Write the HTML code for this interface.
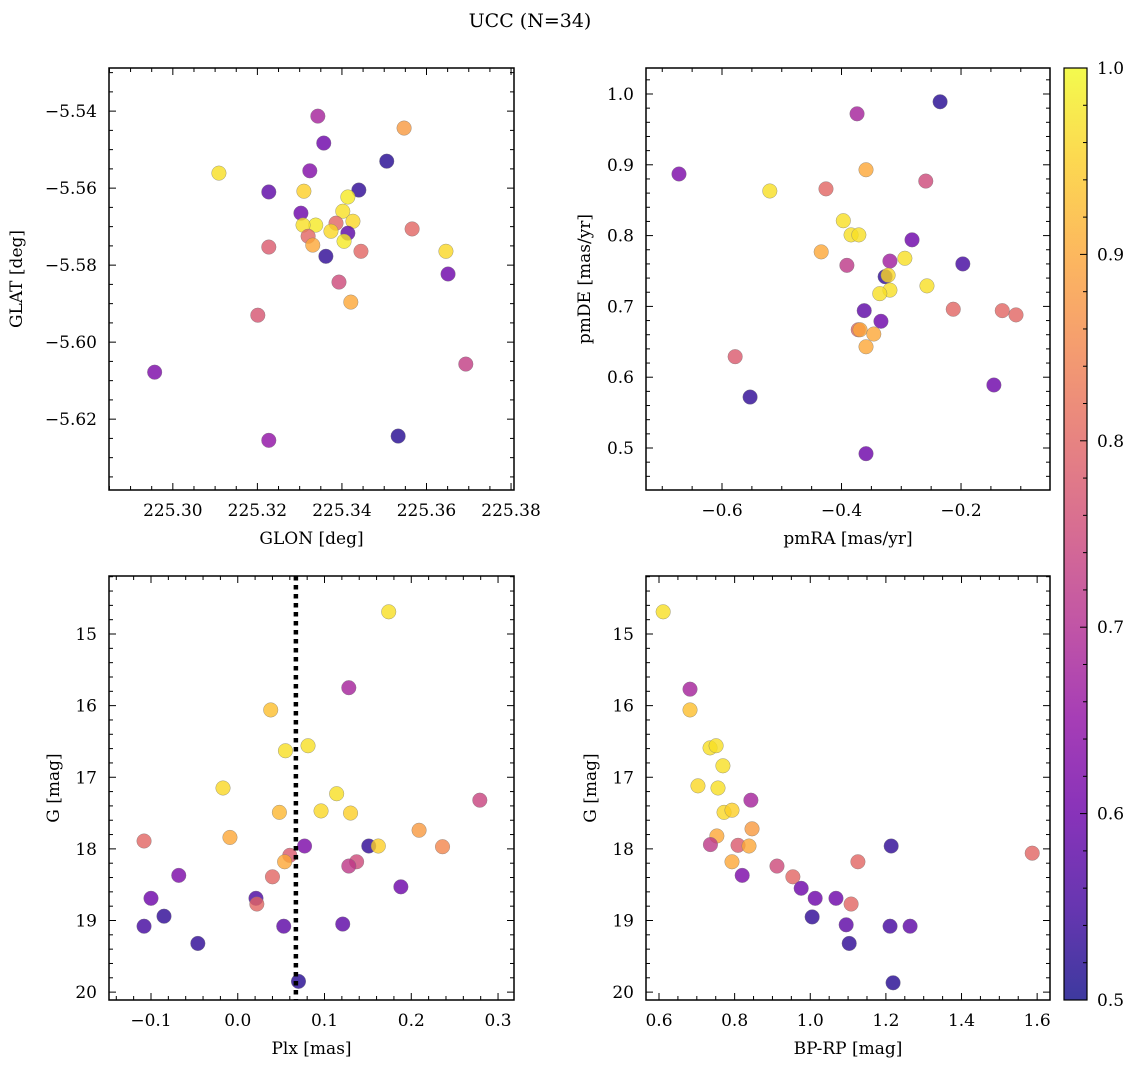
<!DOCTYPE html>
<html><head><meta charset="utf-8">
<style>
html,body{margin:0;padding:0;background:#fff;}
svg{display:block;font-family:"DejaVu Serif","Liberation Serif",serif;}
</style></head>
<body>
<svg id="fig" width="1136" height="1067" viewBox="0 0 1136 1067" xmlns="http://www.w3.org/2000/svg">
<defs>
<linearGradient id="cbgrad" x1="0" y1="1" x2="0" y2="0">
<stop offset="0" stop-color="#0d0887"/><stop offset="0.1" stop-color="#41049d"/><stop offset="0.2" stop-color="#6a00a8"/><stop offset="0.3" stop-color="#8f0da4"/><stop offset="0.4" stop-color="#b12a90"/><stop offset="0.5" stop-color="#cc4778"/><stop offset="0.6" stop-color="#e16462"/><stop offset="0.7" stop-color="#f2844b"/><stop offset="0.8" stop-color="#fca636"/><stop offset="0.9" stop-color="#fcce25"/><stop offset="1" stop-color="#f0f921"/>
</linearGradient>
</defs>
<text x="530" y="27" font-size="19" text-anchor="middle">UCC (N=34)</text>
</svg>
<script>
// ---- data ----
const tlGlon=[225.3343,225.3547,225.3357,225.3109,225.3324,225.3506,225.3227,225.3310,225.3440,225.3414,225.3303,225.3402,225.3426,225.3338,225.3308,225.3386,225.3374,225.3414,225.3320,225.3405,225.3331,225.3227,225.3566,225.3445,225.3646,225.3362,225.3651,225.3393,225.3421,225.3201,225.2957,225.3693,225.3533,225.3227];
const tlGlat=[-5.5413,-5.5444,-5.5483,-5.5561,-5.5555,-5.5530,-5.5610,-5.5608,-5.5605,-5.5623,-5.5665,-5.5660,-5.5686,-5.5696,-5.5696,-5.5691,-5.5712,-5.5717,-5.5725,-5.5738,-5.5748,-5.5753,-5.5706,-5.5764,-5.5764,-5.5777,-5.5823,-5.5844,-5.5896,-5.5930,-5.6078,-5.6057,-5.6244,-5.6255];
const tlProb=[0.68,0.88,0.6,0.97,0.63,0.52,0.58,0.95,0.53,0.98,0.6,0.97,0.96,0.98,0.97,0.8,0.96,0.58,0.8,0.98,0.9,0.78,0.8,0.8,0.96,0.53,0.6,0.75,0.9,0.77,0.62,0.73,0.52,0.65];

const trPmra=[-0.235,-0.374,-0.672,-0.520,-0.426,-0.359,-0.259,-0.397,-0.384,-0.371,-0.434,-0.282,-0.391,-0.319,-0.294,-0.197,-0.327,-0.322,-0.257,-0.319,-0.336,-0.213,-0.131,-0.108,-0.362,-0.334,-0.372,-0.369,-0.346,-0.359,-0.578,-0.145,-0.553,-0.359];
const trPmde=[0.989,0.972,0.887,0.863,0.866,0.893,0.877,0.821,0.801,0.801,0.777,0.794,0.758,0.764,0.768,0.760,0.742,0.744,0.729,0.723,0.718,0.696,0.694,0.688,0.694,0.679,0.667,0.667,0.661,0.643,0.629,0.589,0.572,0.492];
const trProb=[0.52,0.68,0.62,0.97,0.8,0.9,0.75,0.97,0.97,0.97,0.9,0.6,0.72,0.67,0.97,0.55,0.53,0.96,0.97,0.97,0.97,0.8,0.8,0.8,0.58,0.6,0.8,0.9,0.9,0.9,0.78,0.6,0.53,0.6];

const blPlx=[0.174,0.128,0.038,0.055,0.081,0.114,-0.017,0.130,0.096,0.048,0.279,-0.108,-0.009,0.209,0.236,0.077,0.151,0.162,0.060,0.054,0.137,0.128,-0.068,0.040,0.188,-0.100,0.021,0.022,-0.085,-0.108,0.053,0.121,-0.046,0.070];
const blG=[14.69,15.75,16.06,16.63,16.56,17.23,17.15,17.50,17.47,17.49,17.32,17.89,17.84,17.74,17.97,17.96,17.96,17.96,18.09,18.18,18.18,18.24,18.37,18.39,18.53,18.69,18.69,18.77,18.94,19.08,19.08,19.05,19.32,19.85];
const blProb=[0.97,0.68,0.93,0.97,0.97,0.97,0.96,0.95,0.96,0.92,0.74,0.8,0.9,0.88,0.85,0.62,0.53,0.95,0.78,0.9,0.75,0.72,0.62,0.8,0.6,0.6,0.56,0.8,0.53,0.55,0.58,0.58,0.53,0.52];
const plxLine=0.067;

const brBprp=[0.611,0.682,0.682,0.735,0.751,0.769,0.703,0.756,0.772,0.793,0.843,0.753,0.846,0.809,0.838,0.736,1.587,1.214,0.793,1.126,0.912,0.820,0.954,0.976,1.013,1.068,1.108,1.005,1.095,1.211,1.264,1.103,1.219];
const brG=[14.69,15.77,16.06,16.59,16.56,16.84,17.12,17.15,17.49,17.46,17.32,17.82,17.72,17.95,17.96,17.94,18.06,17.96,18.18,18.18,18.24,18.37,18.39,18.55,18.69,18.69,18.77,18.95,19.06,19.08,19.08,19.32,19.87];
const brProb=[0.97,0.68,0.93,0.97,0.97,0.97,0.96,0.97,0.96,0.95,0.68,0.9,0.88,0.78,0.9,0.72,0.8,0.53,0.9,0.8,0.75,0.62,0.8,0.6,0.6,0.6,0.8,0.53,0.58,0.55,0.58,0.53,0.52];

const cbTicks=[0.5,0.6,0.7,0.8,0.9,1.0];

// ---- helpers ----
const NS="http://www.w3.org/2000/svg";
const svg=document.getElementById('fig');
function mk(tag,attrs,parent){const e=document.createElementNS(NS,tag);for(const k in attrs)e.setAttribute(k,attrs[k]);(parent||svg).appendChild(e);return e;}
const stops=[[0,[13,8,135]],[0.1,[65,4,157]],[0.2,[106,0,168]],[0.3,[143,13,164]],[0.4,[177,42,144]],[0.5,[204,71,120]],[0.6,[225,100,98]],[0.7,[242,132,75]],[0.8,[252,166,54]],[0.9,[252,206,37]],[1,[240,249,33]]];
function plasma(p){let t=Math.max(0,Math.min(1,(p-0.5)/0.5));for(let i=1;i<stops.length;i++){if(t<=stops[i][0]){const a=stops[i-1],b=stops[i];const f=(t-a[0])/(b[0]-a[0]);const c=a[1].map((v,j)=>Math.round(v+(b[1][j]-v)*f));return `rgb(${c[0]},${c[1]},${c[2]})`;}}return 'rgb(240,249,33)';}
function fmt(v,d){const s=Math.abs(v).toFixed(d);return (v<-1e-9?'\u2212':'')+s;}

function panel(cfg){
  const g=mk('g',{});
  
  
  const {x0,x1,y0,y1}=cfg.box;
  const sx=v=>x0+(v-cfg.xr[0])/(cfg.xr[1]-cfg.xr[0])*(x1-x0);
  const sy=cfg.yinv?(v=>y0+(v-cfg.yr[0])/(cfg.yr[1]-cfg.yr[0])*(y1-y0)):(v=>y1-(v-cfg.yr[0])/(cfg.yr[1]-cfg.yr[0])*(y1-y0));
  // points
  const pg=mk('g',{},g);
  
  
  for(let i=0;i<cfg.xs.length;i++){
    const c=mk('circle',{cx:sx(cfg.xs[i]),cy:sy(cfg.ys[i]),r:7.3,fill:plasma(cfg.ps[i]),'fill-opacity':0.8,stroke:'#777','stroke-width':0.5,'stroke-opacity':0.7},pg);
    
    
  }
  if(cfg.vline!==undefined){
    const l=mk('line',{x1:sx(cfg.vline),x2:sx(cfg.vline),y1:y0,y2:y1,stroke:'#000','stroke-width':4.5,'stroke-dasharray':'4.5,4.5'},g);
    
    
  }
  // frame
  const fr=mk('rect',{x:x0,y:y0,width:x1-x0,height:y1-y0,fill:'none',stroke:'#000','stroke-width':1.5},g);
  
  
  // ticks
  const eps=1e-9;
  const tg=mk('g',{stroke:'#000','stroke-width':1},g);
  
  
  const lo=Math.min(...cfg.xr),hi=Math.max(...cfg.xr);
  for(let v=Math.ceil(lo/cfg.xmin-eps)*cfg.xmin;v<=hi+eps;v+=cfg.xmin){
    const X=sx(v);const maj=Math.abs(v/cfg.xmaj-Math.round(v/cfg.xmaj))<1e-4;const L=maj?7:4;
    mk('line',{x1:X,x2:X,y1:y1,y2:y1-L},tg);mk('line',{x1:X,x2:X,y1:y0,y2:y0+L},tg);
  }
  const ylo=Math.min(...cfg.yr),yhi=Math.max(...cfg.yr);
  for(let v=Math.ceil(ylo/cfg.ymin-eps)*cfg.ymin;v<=yhi+eps;v+=cfg.ymin){
    const Y=sy(v);const maj=Math.abs(v/cfg.ymaj-Math.round(v/cfg.ymaj))<1e-4;const L=maj?7:4;
    mk('line',{x1:x0,x2:x0+L,y1:Y,y2:Y},tg);mk('line',{x1:x1,x2:x1-L,y1:Y,y2:Y},tg);
  }
  for(const v of cfg.xticks){
    const t=mk('text',{x:sx(v),y:y1+26,'font-size':17,'text-anchor':'middle'},g);
    t.textContent=fmt(v,cfg.xdec);
    
    
  }
  for(const v of cfg.yticks){
    const t=mk('text',{x:x0-12,y:sy(v)+6,'font-size':17,'text-anchor':'end'},g);
    t.textContent=fmt(v,cfg.ydec);
    
    
  }
  const xt=mk('text',{x:(x0+x1)/2,y:y1+54,'font-size':17,'text-anchor':'middle'},g);
  xt.textContent=cfg.xlabel;
  
  
  const yt=mk('text',{x:cfg.ylx,y:(y0+y1)/2,'font-size':17,'text-anchor':'middle',transform:`rotate(-90 ${cfg.ylx} ${(y0+y1)/2})`},g);
  yt.textContent=cfg.ylabel;
  
  
}

panel({name:'glon-glat-panel',box:{x0:109,x1:514,y0:68,y1:490},xr:[225.2849,225.3807],yr:[-5.6384,-5.5288],
  xs:tlGlon,ys:tlGlat,ps:tlProb,xmaj:0.02,xmin:0.005,ymaj:0.02,ymin:0.005,
  xticks:[225.30,225.32,225.34,225.36,225.38],xdec:2,yticks:[-5.54,-5.56,-5.58,-5.60,-5.62],ydec:2,
  xlabel:'GLON [deg]',ylabel:'GLAT [deg]',ylx:22});
panel({name:'pm-panel',box:{x0:646,x1:1050,y0:68,y1:490},xr:[-0.7272,-0.0511],yr:[0.4407,1.0367],
  xs:trPmra,ys:trPmde,ps:trProb,xmaj:0.2,xmin:0.05,ymaj:0.1,ymin:0.02,
  xticks:[-0.6,-0.4,-0.2],xdec:1,yticks:[0.5,0.6,0.7,0.8,0.9,1.0],ydec:1,
  xlabel:'pmRA [mas/yr]',ylabel:'pmDE [mas/yr]',ylx:590});
panel({name:'plx-g-panel',box:{x0:109,x1:514,y0:576,y1:1000},xr:[-0.1484,0.3184],yr:[14.19,20.11],yinv:true,
  xs:blPlx,ys:blG,ps:blProb,vline:plxLine,xmaj:0.1,xmin:0.02,ymaj:1,ymin:0.2,
  xticks:[-0.1,0.0,0.1,0.2,0.3],xdec:1,yticks:[15,16,17,18,19,20],ydec:0,
  xlabel:'Plx [mas]',ylabel:'G [mag]',ylx:59});
panel({name:'cmd-panel',box:{x0:646,x1:1050,y0:576,y1:1000},xr:[0.5656,1.634],yr:[14.19,20.11],yinv:true,
  xs:brBprp,ys:brG,ps:brProb,xmaj:0.2,xmin:0.05,ymaj:1,ymin:0.2,
  xticks:[0.6,0.8,1.0,1.2,1.4,1.6],xdec:1,yticks:[15,16,17,18,19,20],ydec:0,
  xlabel:'BP-RP [mag]',ylabel:'G [mag]',ylx:596});

// colorbar
const cb=mk('g',{});


mk('rect',{x:1064,y:68,width:23,height:932,fill:'url(#cbgrad)','fill-opacity':0.8},cb);
mk('rect',{x:1064,y:68,width:23,height:932,fill:'none',stroke:'#000','stroke-width':1.2},cb);
const cy=v=>1000-(v-0.5)/0.5*932;
for(let v=0.5;v<=1.0001;v+=0.02){
  const maj=Math.abs(v*10-Math.round(v*10))<1e-4;
  mk('line',{x1:1087,x2:1087-(maj?7:4),y1:cy(v),y2:cy(v),stroke:'#000','stroke-width':1},cb);
}
for(const v of cbTicks){
  const t=mk('text',{x:1097,y:cy(v)+6,'font-size':17},cb);
  t.textContent=v.toFixed(1);
  
  
}
</script>
</body></html>
